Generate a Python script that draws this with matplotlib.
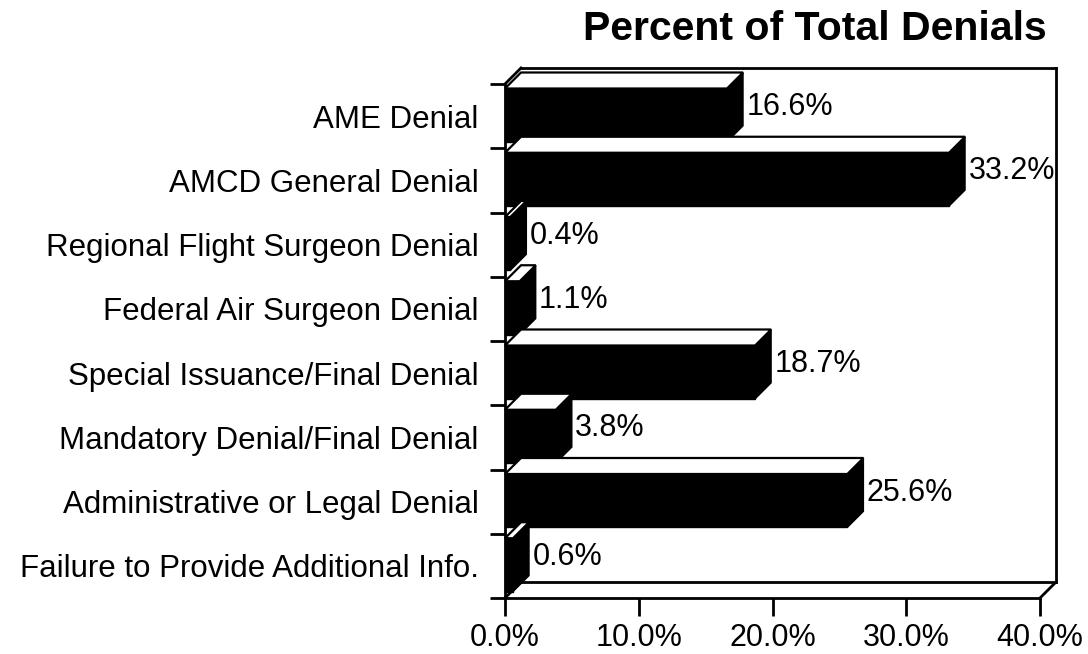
import matplotlib
matplotlib.use("Agg")
import matplotlib.pyplot as plt
from matplotlib.patches import Polygon, Rectangle

# data
categories = ["AME Denial", "AMCD General Denial", "Regional Flight Surgeon Denial",
              "Federal Air Surgeon Denial", "Special Issuance/Final Denial",
              "Mandatory Denial/Final Denial", "Administrative or Legal Denial",
              "Failure to Provide Additional Info."]
percents = [16.6, 33.2, 0.4, 1.1, 18.7, 3.8, 25.6, 0.6]
x_ticks = [0, 10, 20, 30, 40]
title = "Percent of Total Denials"

plt.rcParams['font.family'] = ['Liberation Sans', 'DejaVu Sans']

W, H = 1088, 654
fig = plt.figure(figsize=(W / 100, H / 100), dpi=100)
left, right, bottom, top = 505, 1040, 598, 84
ax = fig.add_axes([left / W, 1 - bottom / H, (right - left) / W, (bottom - top) / H])
ax.set_xlim(x_ticks[0], x_ticks[-1])
ax.set_ylim(len(categories), 0)

# depth of the 3d effect, 16 px converted to data units
dx = 16 / ((right - left) / (x_ticks[-1] - x_ticks[0]))
dy = 16 / ((bottom - top) / len(categories))

for i, v in enumerate(percents):
    y0, y1 = i + 0.07, i + 0.90
    z = 3 + i * 0.1
    ax.add_patch(Rectangle((0, y0), v, y1 - y0, fc='black', ec='black', lw=1,
                           clip_on=False, zorder=z))
    ax.add_patch(Polygon([(v, y0), (v + dx, y0 - dy), (v + dx, y1 - dy), (v, y1)],
                         closed=True, fc='black', ec='black', lw=1, clip_on=False, zorder=z))
    ax.add_patch(Polygon([(0, y0), (dx, y0 - dy), (v + dx, y0 - dy), (v, y0)],
                         closed=True, fc='white', ec='black', lw=1.6, clip_on=False,
                         zorder=z + 0.01))
    ax.text(v + dx + 0.25, (y0 - dy + y1) / 2, f"{v:.1f}%", ha='left', va='center',
            fontsize=22, zorder=z + 0.02)

# back wall / floor of the box
xmax = x_ticks[-1]
nb = len(categories)
frame = dict(color='black', lw=2, clip_on=False, zorder=2, solid_capstyle='projecting')
ax.plot([dx, xmax + dx], [-dy, -dy], **frame)
ax.plot([xmax + dx, xmax + dx], [-dy, nb - dy], **frame)
ax.plot([dx, xmax + dx], [nb - dy, nb - dy], **frame)
ax.plot([0, dx], [0, -dy], **frame)
ax.plot([0, dx], [nb, nb - dy], **frame)
ax.plot([xmax, xmax + dx], [nb, nb - dy], **frame)

for s in ['top', 'right']:
    ax.spines[s].set_visible(False)
for s in ['left', 'bottom']:
    ax.spines[s].set_linewidth(2)
    ax.spines[s].set_zorder(10)

ax.set_xticks(x_ticks)
ax.set_xticklabels([f"{t:.1f}%" for t in x_ticks], fontsize=22)
ax.tick_params(axis='x', length=13, width=2, pad=5)

ax.set_yticks(range(nb + 1))
ax.set_yticklabels([])
ax.tick_params(axis='y', which='major', length=11, width=2)
ax.set_yticks([i + 0.5 for i in range(nb)], minor=True)
ax.set_yticklabels(categories, minor=True, fontsize=22.5)
ax.tick_params(axis='y', which='minor', length=0, pad=19)

fig.text(815 / W, 1 - 40 / H, title, ha='center', va='baseline',
         fontsize=29.5, fontweight='bold')

fig.savefig("out.png", dpi=100)
